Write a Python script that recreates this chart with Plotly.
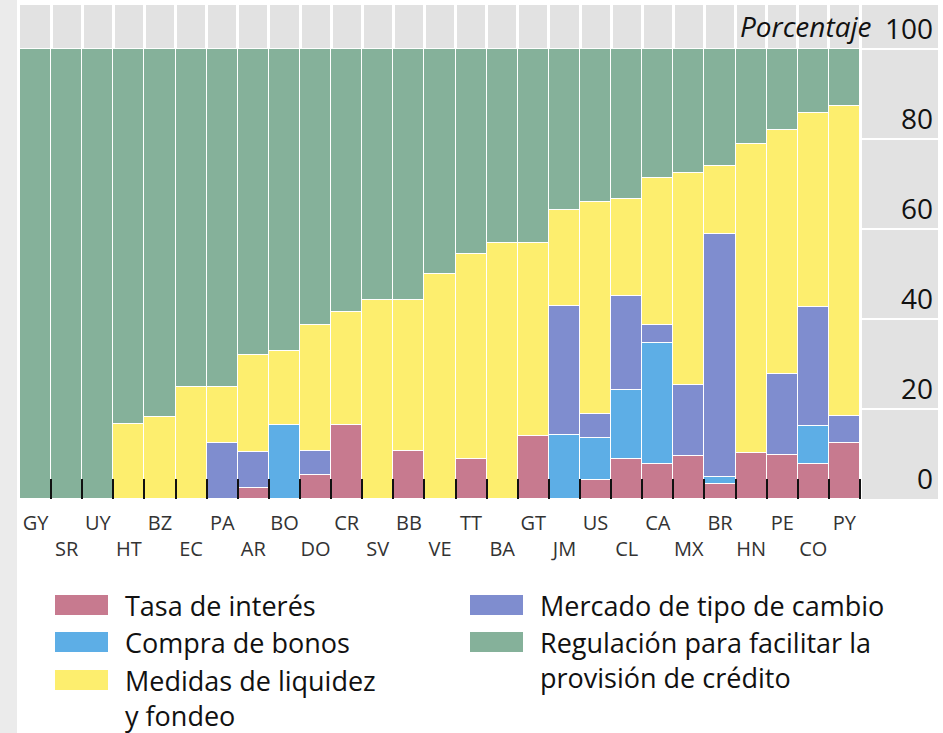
import plotly.graph_objects as go

# países (orden del gráfico)
paises = ["GY", "SR", "UY", "HT", "BZ", "EC", "PA", "AR", "BO", "DO", "CR", "SV", "BB", "VE",
          "TT", "BA", "GT", "JM", "US", "CL", "CA", "MX", "BR", "HN", "PE", "CO", "PY"]

# porcentaje de medidas por tipo
tasa_interes = [0, 0, 0, 0, 0, 0, 0, 2.4, 0, 5.3, 16.5, 0, 10.7, 0,
                8.8, 0, 14.0, 0, 4.2, 8.8, 7.8, 9.6, 3.3, 10.3, 9.8, 7.8, 12.4]
compra_bonos = [0, 0, 0, 0, 0, 0, 0, 0, 16.5, 0, 0, 0, 0, 0,
                0, 0, 0, 14.3, 9.3, 15.4, 26.9, 0, 1.7, 0, 0, 8.5, 0]
mercado_cambio = [0, 0, 0, 0, 0, 0, 12.5, 8.1, 0, 5.3, 0, 0, 0, 0,
                  0, 0, 0, 28.6, 5.5, 21.0, 4.0, 15.7, 54.0, 0, 17.9, 26.4, 6.0]
liquidez_fondeo = [0, 0, 0, 16.7, 18.2, 25.0, 12.5, 21.6, 16.5, 28.1, 25.0, 44.2, 33.5, 50.0,
                   45.6, 57.0, 43.0, 21.4, 47.0, 21.4, 32.7, 47.2, 15.0, 68.6, 54.3, 43.0, 68.9]
regulacion_credito = [100, 100, 100, 83.3, 81.8, 75.0, 75.0, 67.9, 67.0, 61.3, 58.5, 55.8, 55.8, 50.0,
                      45.6, 43.0, 43.0, 35.7, 34.0, 33.4, 28.6, 27.5, 26.0, 21.1, 18.0, 14.3, 12.7]

y_ticks = [0, 20, 40, 60, 80, 100]

series = [
    ("Tasa de interés", tasa_interes, "#c77a8f"),
    ("Compra de bonos", compra_bonos, "#5daee6"),
    ("Mercado de tipo de cambio", mercado_cambio, "#7f8dcf"),
    ("Medidas de liquidez<br>y fondeo", liquidez_fondeo, "#fdee6e"),
    ("Regulación para facilitar la<br>provisión de crédito", regulacion_credito, "#85b19a"),
]

W, H = 943, 733
ML, MR, MT, MB = 20, 5, 5, 234
FONT = "Open Sans, Noto Sans, sans-serif"


def px_x(p):
    return (p - ML) / (W - ML - MR)


def px_y(p):
    return (H - MB - p) / (H - MT - MB)


fig = go.Figure()
for nombre, vals, color in series:
    fig.add_bar(
        x=paises, y=vals, name=nombre,
        marker=dict(color=color, line=dict(color="white", width=1.5)),
        showlegend=False,
    )

# etiquetas alternadas en dos filas
ticktext = [p if i % 2 == 0 else "<br>" + p for i, p in enumerate(paises)]

n = len(paises)
extra = (W - ML - MR) / (840 / n) - n  # espacio a la derecha para las etiquetas del eje y

fig.update_layout(
    width=W, height=H,
    margin=dict(l=ML, r=MR, t=MT, b=MB),
    barmode="stack", bargap=0,
    paper_bgcolor="white", plot_bgcolor="#e2e2e2",
    font=dict(family=FONT, color="#222"),
)
fig.update_xaxes(
    type="category",
    range=[-0.5, n - 0.5 + extra],
    tickmode="array", tickvals=paises, ticktext=ticktext,
    tickson="boundaries", tickangle=0,
    ticks="inside", ticklen=20, tickwidth=2, tickcolor="#111",
    showgrid=True, gridcolor="white", gridwidth=3,
    tickfont=dict(size=20, color="#333"),
    ticklabelstandoff=10,
    showline=False, zeroline=False, automargin=False,
)
# eje y libre en el borde derecho, etiquetas hacia dentro
fig.update_yaxes(
    range=[0, (H - MT - MB) / 4.5],
    anchor="free", position=1, side="left",
    tickvals=y_ticks,
    ticklabelposition="outside top",
    ticks="", ticklabelstandoff=5,
    showgrid=True, gridcolor="white", gridwidth=2,
    tickfont=dict(size=28, color="#111"),
    zeroline=False, showline=False, automargin=False,
)

fig.add_annotation(
    text="<i>Porcentaje</i>", xref="paper", yref="y",
    x=px_x(874), y=100, xanchor="right", yanchor="bottom", yshift=2,
    showarrow=False, font=dict(size=28, color="#111"),
)

# franja gris a la izquierda
fig.add_shape(type="rect", xref="paper", yref="paper",
              x0=px_x(0), x1=px_x(17), y0=px_y(H), y1=px_y(0),
              fillcolor="#ebebeb", line_width=0, layer="below")

# leyenda manual en dos columnas
posiciones = [(55, 605), (55, 642), (470, 605), (55, 680), (470, 642)]
for (nombre, _, color), (x0, yc) in zip(series, posiciones):
    fig.add_shape(type="rect", xref="paper", yref="paper",
                  x0=px_x(x0), x1=px_x(x0 + 53), y0=px_y(yc - 10), y1=px_y(yc + 10),
                  fillcolor=color, line_width=0)
    fig.add_annotation(
        text=nombre, xref="paper", yref="paper",
        x=px_x(x0 + 68), y=px_y(yc - 20), xanchor="left", yanchor="top",
        align="left", showarrow=False,
        font=dict(size=27, color="#111"),
    )

# sin margen del body para que la figura ocupe la ventana exacta
fig.write_html(
    "out.html",
    config={"displayModeBar": False},
    post_script="document.body.style.margin='0';",
)
